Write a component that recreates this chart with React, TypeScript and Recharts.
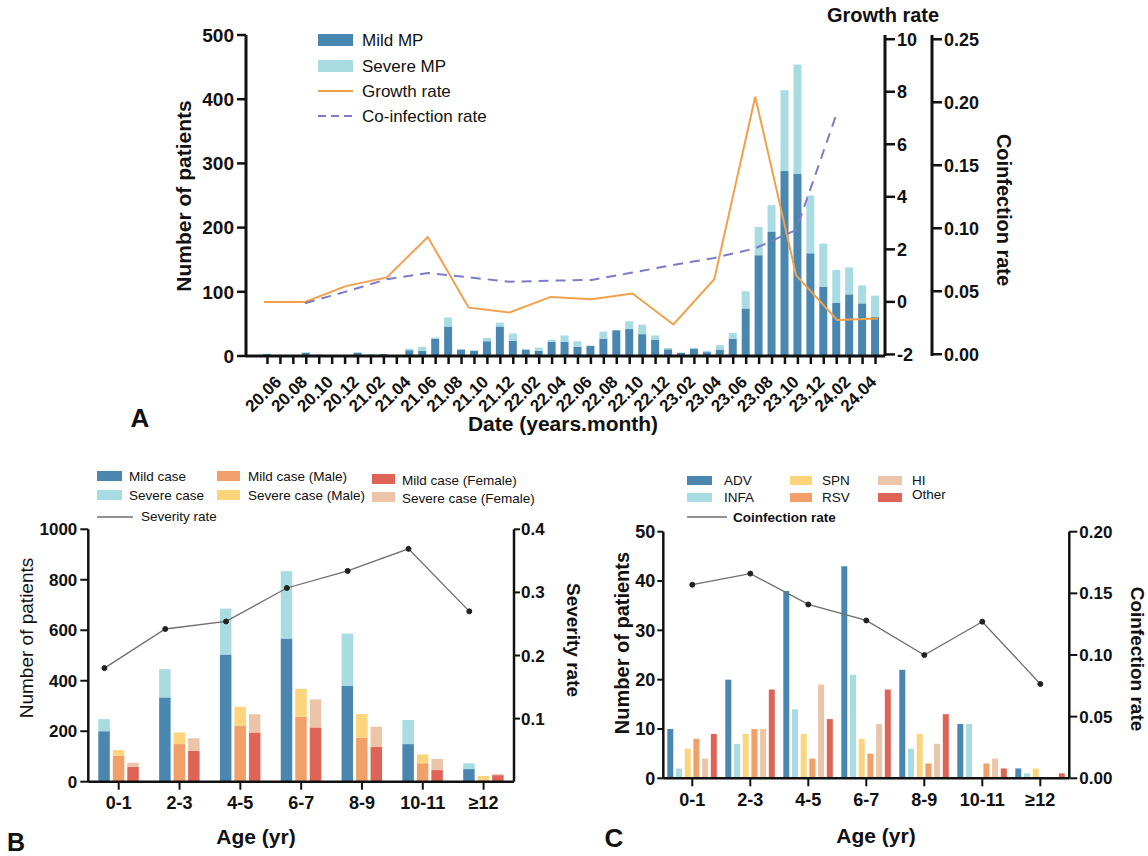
import { Bar, ComposedChart, Line, XAxis, YAxis } from "recharts";

const FONT = '"Liberation Sans", Arial, Helvetica, sans-serif';
const INK = "#111";
const DARK_BLUE = "#4a87b0";
const LIGHT_BLUE = "#a8dbe2";
const ORANGE = "#f0a068";
const YELLOW = "#fbd47c";
const RED = "#de6455";
const PEACH = "#ecc4a7";

// Panel A: monthly patients
const months = [
  "20.05", "20.06", "20.07", "20.08", "20.09", "20.10", "20.11", "20.12",
  "21.01", "21.02", "21.03", "21.04", "21.05", "21.06", "21.07", "21.08", "21.09", "21.10", "21.11", "21.12",
  "22.01", "22.02", "22.03", "22.04", "22.05", "22.06", "22.07", "22.08", "22.09", "22.10", "22.11", "22.12",
  "23.01", "23.02", "23.03", "23.04", "23.05", "23.06", "23.07", "23.08", "23.09", "23.10", "23.11", "23.12",
  "24.01", "24.02", "24.03", "24.04",
];
const mildMP = [
  3, 0, 1, 5, 2, 1, 1, 5,
  2, 3, 0, 9, 8, 27, 46, 10, 8, 23, 46, 24,
  9.5, 8, 22, 22, 14.5, 15.5, 27, 40, 42, 34, 25.5, 10.5,
  5, 11.5, 6, 10, 27, 74, 157, 194, 288, 284, 160, 108,
  83, 96, 82, 61,
];
const severeMP = [
  0.5, 0, 0, 1, 0.5, 0, 0, 1,
  1, 0, 0, 2.5, 6, 2, 14, 1, 1, 5, 6, 11,
  1.5, 5, 3.5, 10, 8.5, 1, 11, 0, 12, 15, 6.5, 2,
  0.5, 1.5, 2, 7, 9, 27, 44, 41, 126, 170, 90, 67,
  51, 42, 28, 33,
];
const monthLabels = [
  "20.06", "20.08", "20.10", "20.12", "21.02", "21.04", "21.06", "21.08", "21.10", "21.12",
  "22.02", "22.04", "22.06", "22.08", "22.10", "22.12", "23.02", "23.04", "23.06", "23.08",
  "23.10", "23.12", "24.02", "24.04",
];

// quarterly rates
const quarters = [
  "20Q3", "20Q4", "21Q1", "21Q2", "21Q3", "21Q4", "22Q1", "22Q2",
  "22Q3", "22Q4", "23Q1", "23Q2", "23Q3", "23Q4", "24Q1", "24Q2",
];
const growthRate = [0, 0, 0.6, 0.93, 2.47, -0.22, -0.4, 0.19, 0.1, 0.32, -0.86, 0.86, 7.81, 1.01, -0.69, -0.63];
const coinfectionRate = [
  null, 0.0405, 0.0497, 0.0595, 0.0645, 0.061, 0.0576, 0.0584,
  0.059, 0.0648, 0.0709, 0.0764, 0.0841, 0.0987, 0.192, null,
];

// Panel B: severity by age
const ageGroups = ["0-1", "2-3", "4-5", "6-7", "8-9", "10-11", "≥12"];
const mildCase = [200, 334, 504, 567, 380, 149, 50];
const severeCase = [48, 112, 182, 267, 207, 95, 23];
const mildMale = [103, 149, 222, 257, 174, 73, 8];
const severeMale = [22, 46, 75, 111, 94, 35, 15];
const mildFemale = [59, 123, 195, 215, 139, 46, 26];
const severeFemale = [16, 49, 72, 111, 79, 44, 4];
const severityRate = [0.18, 0.242, 0.254, 0.307, 0.334, 0.369, 0.27];

// Panel C: co-infection by age
const adv = [10, 20, 38, 43, 22, 11, 2];
const infa = [2, 7, 14, 21, 6, 11, 1];
const spn = [6, 9, 9, 8, 9, 0, 2];
const rsv = [8, 10, 4, 5, 3, 3, 0];
const hi = [4, 10, 19, 11, 7, 4, 0];
const other = [9, 18, 12, 18, 13, 2, 1];
const coinfectionByAge = [0.157, 0.166, 0.141, 0.128, 0.1, 0.127, 0.0765];

const axisA = { stroke: INK, strokeWidth: 3 };
const tickA = { stroke: INK, strokeWidth: 2.5 };
const axisBC = { stroke: INK, strokeWidth: 2.5 };
const tickBC = { stroke: INK, strokeWidth: 2 };
const tickText = (size: number) => ({ fill: INK, fontSize: size, fontWeight: 700, fontFamily: FONT });

function MonthTick(props: any) {
  const { x, y, payload } = props;
  if (!monthLabels.includes(payload.value)) return <g />;
  const ax = x + 2;
  const ay = y + 17;
  return (
    <text
      x={ax}
      y={ay}
      transform={`rotate(-45 ${ax} ${ay})`}
      textAnchor="end"
      fontSize={17}
      fontWeight={700}
      fill={INK}
      fontFamily={FONT}
    >
      {payload.value}
    </text>
  );
}

function PanelA() {
  const data = months.map((month, i) => ({ month, mild: mildMP[i], severe: severeMP[i] }));
  const rateData = quarters.map((quarter, i) => ({
    quarter,
    q: i,
    growth: growthRate[i],
    coinf: coinfectionRate[i],
  }));
  return (
    <div style={{ position: "absolute", left: 0, top: 0 }}>
      <ComposedChart
        width={1148}
        height={440}
        data={data}
        margin={{ top: 35, right: 156, bottom: 14, left: 186 }}
        barSize={8}
      >
        <XAxis
          xAxisId="m"
          dataKey="month"
          interval={0}
          tick={<MonthTick />}
          tickSize={8}
          tickMargin={2}
          height={70}
          padding={{ left: 15, right: 3 }}
          axisLine={axisA}
          tickLine={tickA}
        />
        <XAxis xAxisId="q" dataKey="q" type="number" domain={[-0.44, 15.17]} allowDataOverflow hide />
        <YAxis
          yAxisId="n"
          domain={[0, 500]}
          ticks={[0, 100, 200, 300, 400, 500]}
          width={60}
          tickSize={9}
          tickMargin={3}
          axisLine={axisA}
          tickLine={tickA}
          tick={tickText(19)}
        />
        <YAxis
          yAxisId="rateZ"
          orientation="right"
          domain={[-0.0014, 0.2534]}
          allowDataOverflow
          ticks={[0, 0.05, 0.1, 0.15, 0.2, 0.25]}
          tickFormatter={(v: number) => v.toFixed(2)}
          width={60}
          tickSize={10}
          tickMargin={2}
          axisLine={axisA}
          tickLine={tickA}
          tick={{ ...tickText(18), textAnchor: "start" }}
        />
        <YAxis
          yAxisId="rateG"
          orientation="right"
          domain={[-2.06, 10.16]}
          allowDataOverflow
          ticks={[-2, 0, 2, 4, 6, 8, 10]}
          width={47}
          tickSize={10}
          tickMargin={2}
          axisLine={axisA}
          tickLine={tickA}
          tick={{ ...tickText(18), textAnchor: "start" }}
        />
        <Bar xAxisId="m" yAxisId="n" dataKey="mild" stackId="mp" fill={DARK_BLUE} isAnimationActive={false} />
        <Bar xAxisId="m" yAxisId="n" dataKey="severe" stackId="mp" fill={LIGHT_BLUE} isAnimationActive={false} />
        <Line
          xAxisId="q"
          yAxisId="rateG"
          data={rateData}
          dataKey="growth"
          type="linear"
          stroke="#f2a04c"
          strokeWidth={2}
          dot={false}
          isAnimationActive={false}
        />
        <Line
          xAxisId="q"
          yAxisId="rateZ"
          data={rateData}
          dataKey="coinf"
          type="linear"
          stroke="#7c7cc6"
          strokeWidth={2}
          strokeDasharray="10 7"
          dot={false}
          isAnimationActive={false}
        />
      </ComposedChart>
    </div>
  );
}

function PanelB() {
  const data = ageGroups.map((age, i) => ({
    age,
    mildCase: mildCase[i],
    severeCase: severeCase[i],
    mildMale: mildMale[i],
    severeMale: severeMale[i],
    mildFemale: mildFemale[i],
    severeFemale: severeFemale[i],
  }));
  const rateData = ageGroups.map((age, i) => ({ age, pos: i, rate: severityRate[i] }));
  return (
    <div style={{ position: "absolute", left: 0, top: 440 }}>
      <ComposedChart
        width={600}
        height={416}
        data={data}
        margin={{ top: 89.3, right: 36, bottom: 34.3, left: 28.3 }}
        barSize={11.5}
        barGap={3}
      >
        <XAxis
          xAxisId="a"
          dataKey="age"
          interval={0}
          height={40}
          tickSize={8}
          tickMargin={7}
          axisLine={axisBC}
          tickLine={tickBC}
          tick={tickText(18)}
        />
        <XAxis xAxisId="p" dataKey="pos" type="number" domain={[-0.265, 6.735]} allowDataOverflow hide />
        <YAxis
          yAxisId="n"
          domain={[0, 1000]}
          ticks={[0, 200, 400, 600, 800, 1000]}
          width={60}
          tickSize={8}
          tickMargin={3}
          axisLine={axisBC}
          tickLine={tickBC}
          tick={tickText(17)}
        />
        <YAxis
          yAxisId="r"
          orientation="right"
          domain={[0, 0.4]}
          ticks={[0.1, 0.2, 0.3, 0.4]}
          width={50}
          tickSize={6}
          tickMargin={1}
          axisLine={axisBC}
          tickLine={tickBC}
          tick={{ ...tickText(17), textAnchor: "start" }}
        />
        <Bar xAxisId="a" yAxisId="n" dataKey="mildCase" stackId="all" fill={DARK_BLUE} isAnimationActive={false} />
        <Bar xAxisId="a" yAxisId="n" dataKey="severeCase" stackId="all" fill={LIGHT_BLUE} isAnimationActive={false} />
        <Bar xAxisId="a" yAxisId="n" dataKey="mildMale" stackId="male" fill={ORANGE} isAnimationActive={false} />
        <Bar xAxisId="a" yAxisId="n" dataKey="severeMale" stackId="male" fill={YELLOW} isAnimationActive={false} />
        <Bar xAxisId="a" yAxisId="n" dataKey="mildFemale" stackId="female" fill={RED} isAnimationActive={false} />
        <Bar xAxisId="a" yAxisId="n" dataKey="severeFemale" stackId="female" fill={PEACH} isAnimationActive={false} />
        <Line
          xAxisId="p"
          yAxisId="r"
          data={rateData}
          dataKey="rate"
          type="linear"
          stroke="#6e6e6e"
          strokeWidth={1.3}
          dot={{ r: 2.5, fill: "#222", stroke: "#222", strokeWidth: 1 }}
          isAnimationActive={false}
        />
      </ComposedChart>
    </div>
  );
}

function PanelC() {
  const data = ageGroups.map((age, i) => ({
    age,
    adv: adv[i],
    infa: infa[i],
    spn: spn[i],
    rsv: rsv[i],
    hi: hi[i],
    other: other[i],
    rate: coinfectionByAge[i],
  }));
  return (
    <div style={{ position: "absolute", left: 580, top: 440 }}>
      <ComposedChart
        width={568}
        height={416}
        data={data}
        margin={{ top: 91.7, right: 28.7, bottom: 37.7, left: 33.3 }}
        barSize={6}
        barGap={2.7}
      >
        <XAxis
          dataKey="age"
          interval={0}
          height={40}
          tickSize={8}
          tickMargin={7}
          axisLine={axisBC}
          tickLine={tickBC}
          tick={tickText(18)}
        />
        <YAxis
          yAxisId="n"
          domain={[0, 50]}
          ticks={[0, 10, 20, 30, 40, 50]}
          width={50}
          tickSize={6}
          tickMargin={2}
          axisLine={axisBC}
          tickLine={tickBC}
          tick={tickText(18)}
        />
        <YAxis
          yAxisId="r"
          orientation="right"
          domain={[0, 0.2]}
          ticks={[0, 0.05, 0.1, 0.15, 0.2]}
          tickFormatter={(v: number) => v.toFixed(2)}
          width={50}
          tickSize={8}
          tickMargin={2}
          axisLine={axisBC}
          tickLine={tickBC}
          tick={{ ...tickText(17), textAnchor: "start" }}
        />
        <Bar yAxisId="n" dataKey="adv" fill={DARK_BLUE} isAnimationActive={false} />
        <Bar yAxisId="n" dataKey="infa" fill={LIGHT_BLUE} isAnimationActive={false} />
        <Bar yAxisId="n" dataKey="spn" fill={YELLOW} isAnimationActive={false} />
        <Bar yAxisId="n" dataKey="rsv" fill={ORANGE} isAnimationActive={false} />
        <Bar yAxisId="n" dataKey="hi" fill={PEACH} isAnimationActive={false} />
        <Bar yAxisId="n" dataKey="other" fill={RED} isAnimationActive={false} />
        <Line
          yAxisId="r"
          dataKey="rate"
          type="linear"
          stroke="#6e6e6e"
          strokeWidth={1.3}
          dot={{ r: 2.5, fill: "#222", stroke: "#222", strokeWidth: 1 }}
          isAnimationActive={false}
        />
      </ComposedChart>
    </div>
  );
}

function T(props: any) {
  const { x, y, size, bold, rotate, anchor = "start", children, fill = INK } = props;
  return (
    <text
      x={x}
      y={y}
      fontSize={size}
      fontWeight={bold ? 700 : 400}
      fontFamily={FONT}
      fill={fill}
      textAnchor={anchor}
      dominantBaseline="central"
      transform={rotate ? `rotate(${rotate} ${x} ${y})` : undefined}
    >
      {children}
    </text>
  );
}

function Annotations() {
  return (
    <svg
      width={1148}
      height={856}
      style={{ position: "absolute", left: 0, top: 0, pointerEvents: "none" }}
    >
      {/* Panel A */}
      <rect x={318} y={34} width={35} height={12} fill={DARK_BLUE} />
      <T x={362} y={40} size={17}>Mild MP</T>
      <rect x={318} y={60} width={35} height={12} fill={LIGHT_BLUE} />
      <T x={362} y={66} size={17}>Severe MP</T>
      <line x1={318} x2={353} y1={91} y2={91} stroke="#f2a04c" strokeWidth={2} />
      <T x={362} y={91} size={17}>Growth rate</T>
      <line x1={318} x2={353} y1={116} y2={116} stroke="#7c7cc6" strokeWidth={2} strokeDasharray="8 5" />
      <T x={362} y={116} size={17}>Co-infection rate</T>
      <T x={883} y={15} size={20} bold anchor="middle">Growth rate</T>
      <T x={1004} y={210} size={20} bold anchor="middle" rotate={90}>Coinfection rate</T>
      <T x={183} y={196} size={21} bold anchor="middle" rotate={-90}>Number of patients</T>
      <T x={563} y={423} size={21} bold anchor="middle">Date (years.month)</T>
      <T x={140} y={418} size={26} bold anchor="middle">A</T>

      {/* Panel B */}
      <rect x={97} y={471} width={25} height={10} fill={DARK_BLUE} />
      <T x={129} y={476} size={13.5}>Mild case</T>
      <rect x={97} y={490} width={25} height={10} fill={LIGHT_BLUE} />
      <T x={129} y={495} size={13.5}>Severe case</T>
      <line x1={97} x2={133} y1={517} y2={517} stroke="#6e6e6e" strokeWidth={1.3} />
      <T x={141} y={516} size={13.5}>Severity rate</T>
      <rect x={217} y={471} width={23} height={10} fill={ORANGE} />
      <T x={248} y={476} size={13.5}>Mild case (Male)</T>
      <rect x={217} y={490} width={23} height={10} fill={YELLOW} />
      <T x={248} y={495} size={13.5}>Severe case (Male)</T>
      <rect x={372} y={474} width={23} height={10} fill={RED} />
      <T x={402} y={480} size={13.5}>Mild case (Female)</T>
      <rect x={372} y={492} width={23} height={10} fill={PEACH} />
      <T x={402} y={498} size={13.5}>Severe case (Female)</T>
      <T x={26} y={638} size={19} anchor="middle" rotate={-90}>Number of patients</T>
      <T x={573} y={640} size={19} bold anchor="middle" rotate={90}>Severity rate</T>
      <T x={256} y={836} size={21} bold anchor="middle">Age (yr)</T>
      <T x={16} y={842} size={25} bold anchor="middle">B</T>

      {/* Panel C */}
      <rect x={687} y={476} width={25} height={9} fill={DARK_BLUE} />
      <T x={724} y={480} size={13.5}>ADV</T>
      <rect x={687} y={493} width={25} height={9} fill={LIGHT_BLUE} />
      <T x={724} y={497} size={13.5}>INFA</T>
      <rect x={790} y={476} width={22} height={9} fill={YELLOW} />
      <T x={822} y={480} size={13.5}>SPN</T>
      <rect x={790} y={493} width={22} height={9} fill={ORANGE} />
      <T x={822} y={497} size={13.5}>RSV</T>
      <rect x={878} y={476} width={24} height={9} fill={PEACH} />
      <T x={912} y={480} size={13.5}>HI</T>
      <rect x={878} y={493} width={24} height={9} fill={RED} />
      <T x={912} y={494} size={13.5}>Other</T>
      <line x1={687} x2={727} y1={517} y2={517} stroke="#6e6e6e" strokeWidth={1.3} />
      <T x={733} y={517} size={13.5} bold>Coinfection rate</T>
      <T x={622} y={643} size={20} bold anchor="middle" rotate={-90}>Number of patients</T>
      <T x={1137} y={659} size={19} bold anchor="middle" rotate={90}>Coinfection rate</T>
      <T x={876} y={835} size={21} bold anchor="middle">Age (yr)</T>
      <T x={614} y={838} size={26} bold anchor="middle">C</T>
    </svg>
  );
}

export default function App() {
  return (
    <div
      style={{
        position: "absolute",
        left: 0,
        top: 0,
        width: 1148,
        height: 856,
        background: "#fff",
        fontFamily: FONT,
      }}
    >
      <PanelA />
      <PanelB />
      <PanelC />
      <Annotations />
    </div>
  );
}
